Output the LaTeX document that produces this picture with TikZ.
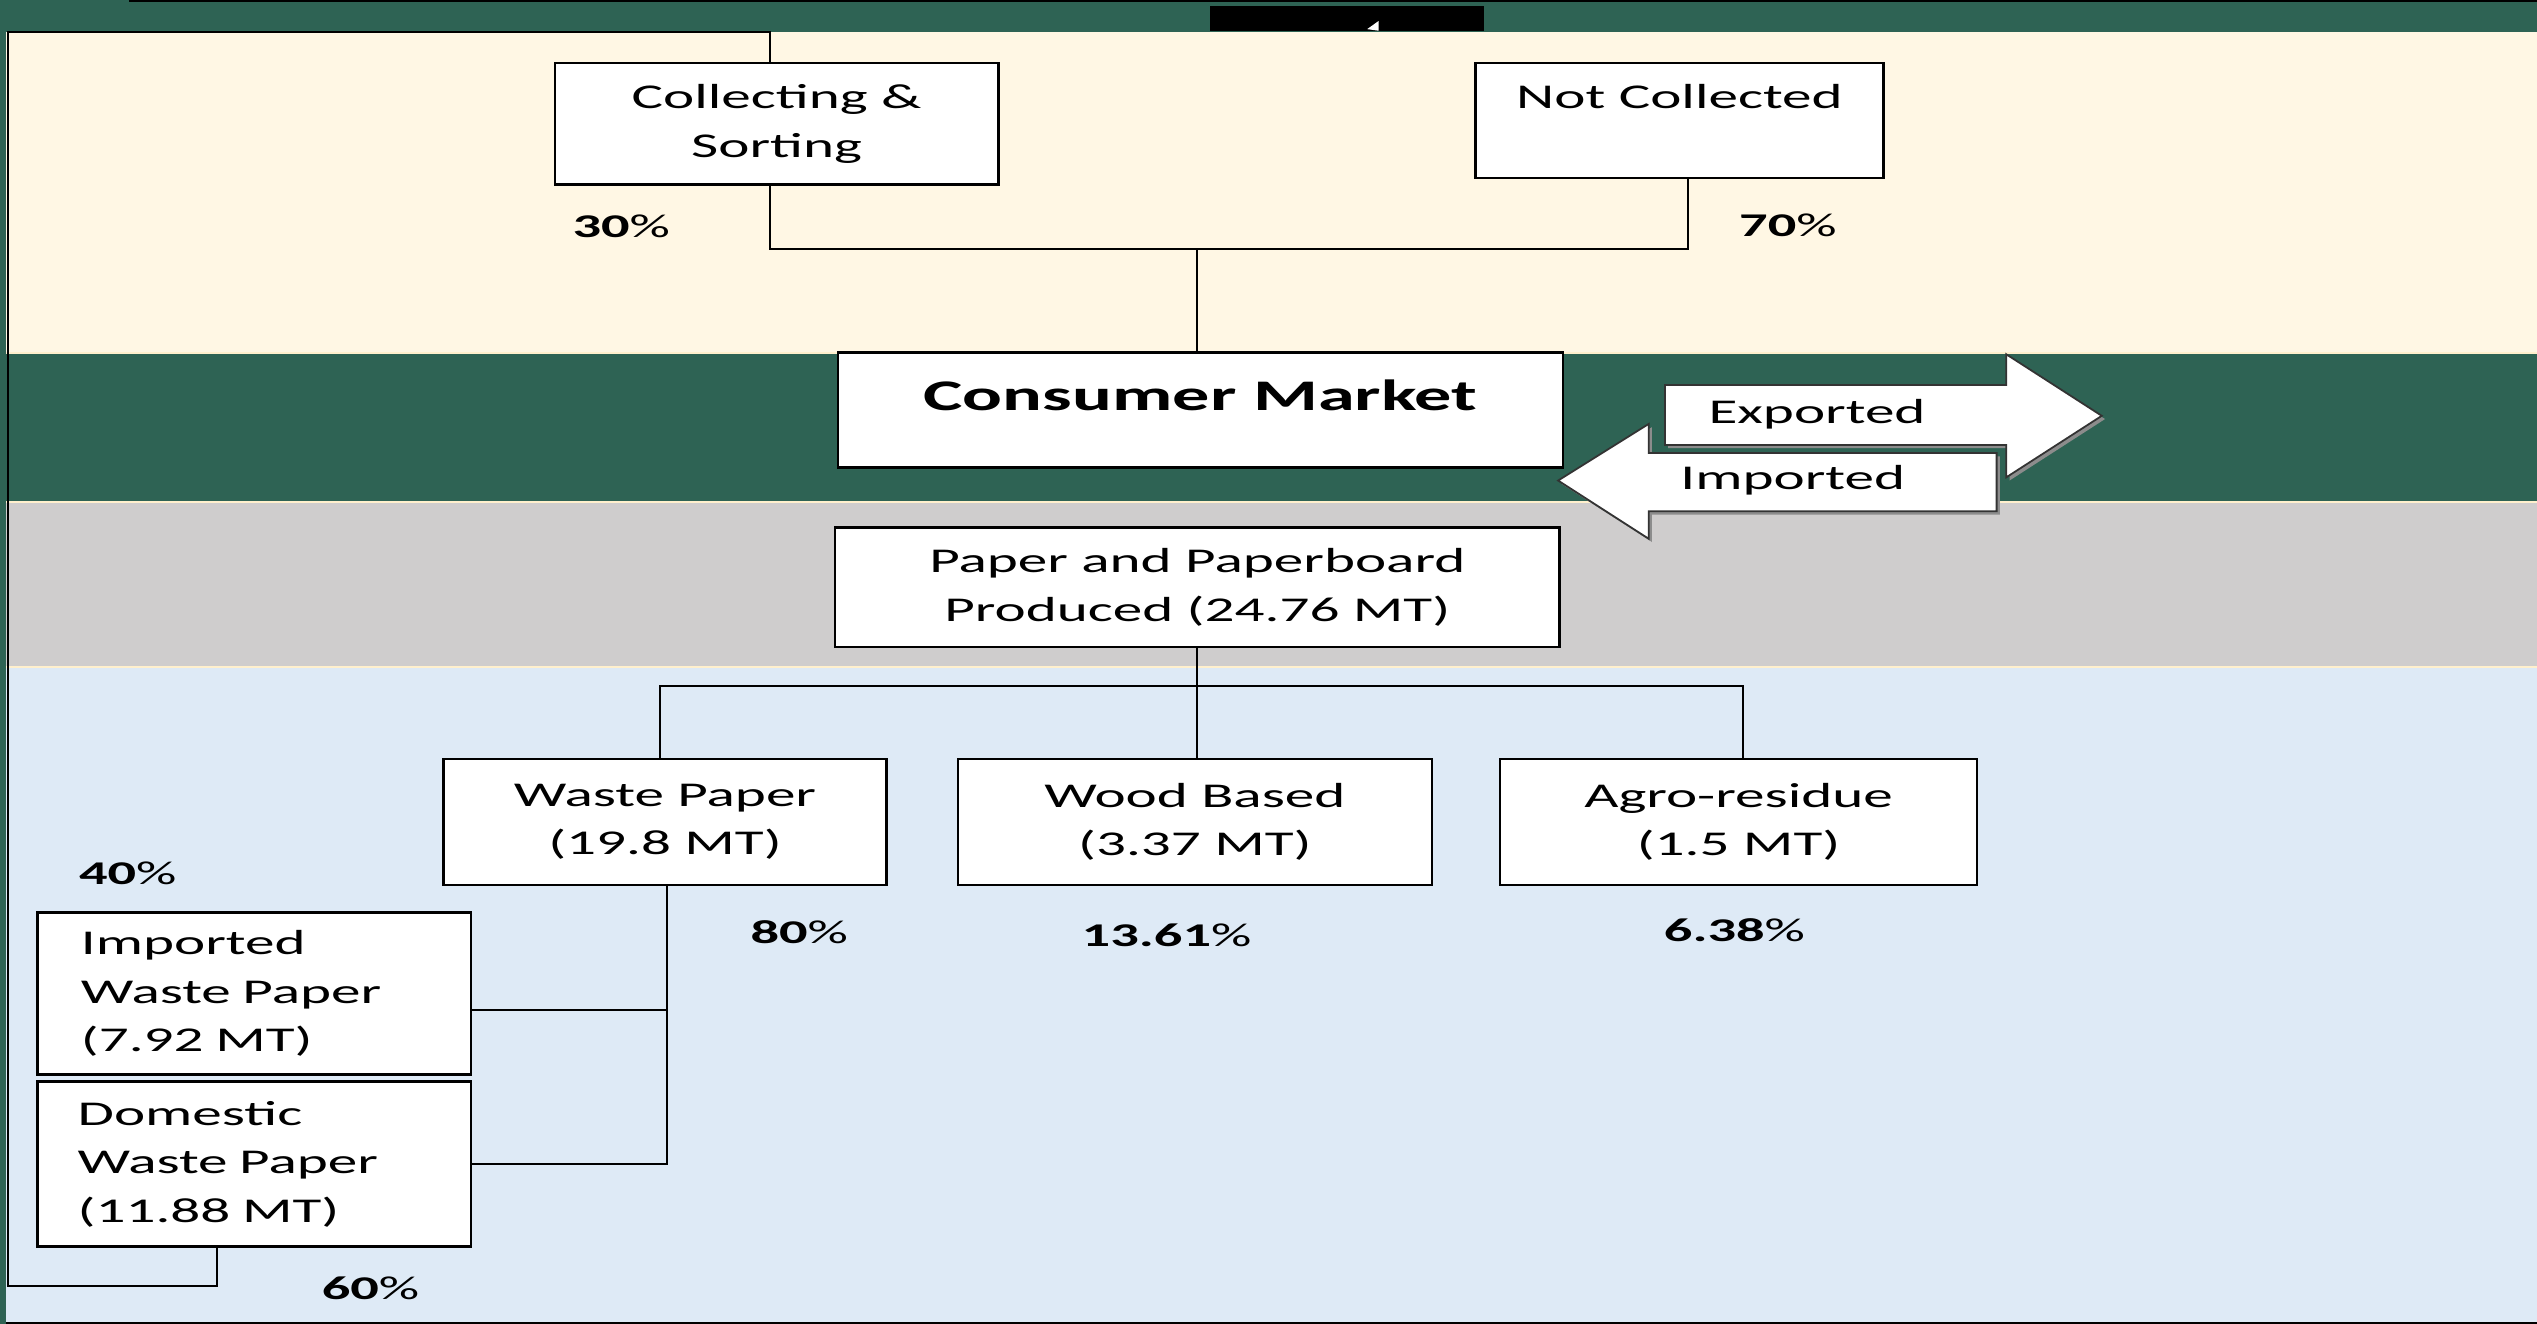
\documentclass[tikz,border=0pt]{standalone}
\usepackage{fontspec}
\setmainfont{Carlito}[FakeStretch=1.7]
\definecolor{dkgreen}{RGB}{46,99,84}
\definecolor{cream}{RGB}{255,247,228}
\definecolor{bandgray}{RGB}{207,205,205}
\definecolor{lightblue}{RGB}{222,234,246}
\definecolor{sepline}{RGB}{255,240,205}
\newcommand\regfont{\fontsize{21.5}{30}\selectfont}
\newcommand\pctfont{\fontsize{20.5}{24}\selectfont}
\newcommand\cmfont{\fontsize{27}{32}\selectfont\bfseries}
\tikzset{
  bx/.style={draw=black, line width=1.6pt, fill=white, inner sep=0pt, align=center, font=\regfont},
  pct/.style={font=\pctfont, inner sep=0pt},
  lbl/.style={font=\regfont, inner sep=0pt},
  conn/.style={line width=1.3pt, black},
  arrowbody/.style={fill=white, draw=black!80, line width=1.1pt, line join=miter},
  arrowshadow/.style={fill=black!45}
}
\begin{document}
\begin{tikzpicture}[x=1pt,y=-1pt]
\useasboundingbox (0,0) rectangle (1568,818);
% background bands
\fill[dkgreen] (0,0) rectangle (1568,818);
\fill[cream] (4,20) rectangle (1568,218);
\fill[bandgray] (4,310) rectangle (1568,412);
\fill[lightblue] (4,412) rectangle (1568,817);
\draw[sepline, line width=1pt] (4,218) -- (1568,218);
\draw[sepline, line width=1.2pt] (4,310.5) -- (1568,310.5);
\draw[sepline, line width=1.2pt] (4,412) -- (1568,412);
\draw[black, line width=1pt] (80,0.5) -- (1568,0.5);
\draw[black, line width=1pt] (4,817.5) -- (1568,817.5);
% black rectangle at top
\fill[black] (748,4) rectangle (917,19);
\fill[white] (845,18) -- (852,13) -- (852,19) -- cycle;

% boxes
\node[bx, minimum width=274pt, minimum height=75pt] (cs) at (480,76.5) {\rule{0pt}{4pt}Collecting \&\\Sorting};
\node[bx, minimum width=252pt, minimum height=71pt] (nc) at (1038,74.5) {\rule{0pt}{4pt}Not Collected\\\mbox{}};
\node[bx, minimum width=448pt, minimum height=71pt, font=\cmfont] (cm) at (742,253.5) {\raisebox{9pt}[\height][\depth]{Consumer Market}};
\node[bx, minimum width=448pt, minimum height=74pt] (pp) at (740,363) {\rule{0pt}{4pt}Paper and Paperboard\\Produced (24.76 MT)};
\node[bx, minimum width=274pt, minimum height=78pt] (wp) at (411,508) {Waste Paper\\(19.8 MT)};
\node[bx, minimum width=293pt, minimum height=78pt] (wb) at (738.5,508) {Wood Based\\(3.37 MT)};
\node[bx, minimum width=295pt, minimum height=78pt] (ar) at (1074.5,508) {Agro-residue\\(1.5 MT)};
\node[bx, align=left, text width=214pt, inner xsep=27pt, minimum width=268pt, minimum height=100pt] (iw) at (157,614) {Imported\\Waste Paper\\(7.92 MT)};
\node[bx, align=left, text width=218pt, inner xsep=25pt, minimum width=268pt, minimum height=102pt] (dw) at (157,719.5) {Domestic\\Waste Paper\\(11.88 MT)};

% export / import arrows
\fill[arrowshadow] (1031,240) -- (1242,240) -- (1242,221) -- (1301,259) -- (1242,297) -- (1242,277) -- (1031,277) -- cycle;
\draw[arrowbody] (1029,238) -- (1240,238) -- (1240,219) -- (1299,257) -- (1240,295) -- (1240,275) -- (1029,275) -- cycle;
\fill[arrowshadow] (1236,282) -- (1021,282) -- (1021,264) -- (965,299) -- (1021,335) -- (1021,318) -- (1236,318) -- cycle;
\draw[arrowbody] (1234,280) -- (1019,280) -- (1019,262) -- (963,297) -- (1019,333) -- (1019,316) -- (1234,316) -- cycle;
\node[lbl] (ext) at (1123,256) {Exported};
\node[lbl] (imt) at (1108,297) {Imported};

% junction coordinates
\coordinate (jt) at (740,154);
\coordinate (jb) at (740,424);
\coordinate (lb) at (5,795);
\coordinate (lt) at (5,20);

% connectors
\draw[conn] ([xshift=-4pt]cs.south) |- (jt) -| ([xshift=5pt]nc.south);
\draw[conn] (cm.north -| jt) -- (jt);
\draw[conn] (pp.south) -- (pp.south |- wb.north);
\draw[conn] ([xshift=-3pt]wp.north) |- (jb) -| ([xshift=2.5pt]ar.north);
\draw[conn] ([xshift=1.5pt]wp.south) |- (dw.east);
\draw[conn] ([yshift=-10pt]iw.east) -- ([yshift=-10pt,xshift=1.5pt]iw.east -| wp.south);
\draw[conn] ([xshift=-23pt]dw.south) |- (lb) -- (lt) -| ([xshift=-4pt]cs.north);

% percentages
\node[pct] (p30) at (384,140) {\textbf{30}\%};
\node[pct] (p70) at (1105,139) {\textbf{70}\%};
\node[pct] (p80) at (494,576) {\textbf{80}\%};
\node[pct] (p1361) at (721,578) {\textbf{13.61}\%};
\node[pct] (p638) at (1072,575) {\textbf{6.38}\%};
\node[pct] (p40) at (79,540) {\textbf{40}\%};
\node[pct] (p60) at (229,796) {\textbf{60}\%};
\end{tikzpicture}
\end{document}
